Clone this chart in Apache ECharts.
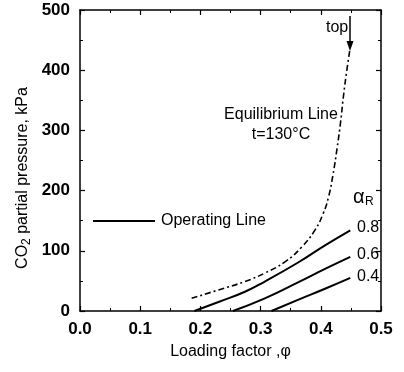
<!DOCTYPE html>
<html><head><meta charset="utf-8">
<script src="https://cdn.jsdelivr.net/npm/echarts@6/dist/echarts.min.js"></script>
<style>html,body{margin:0;padding:0;background:#fff}#c{width:404px;height:372px}</style>
</head><body><div id="c"></div>
<script>
const xTicks = [0.0, 0.1, 0.2, 0.3, 0.4, 0.5];
const yTicks = [0, 100, 200, 300, 400, 500];
const equilibrium = [[0.1855,21],[0.23,35],[0.274,49],[0.307,63],[0.341,82],[0.368,106],[0.39,134],[0.404,162],[0.413,190],[0.42,225],[0.427,270],[0.433,315],[0.438,360],[0.443,398],[0.448,432]];
const op08 = [[0.19,0],[0.23,15],[0.274,32],[0.307,49],[0.363,81],[0.407,109],[0.449,134]];
const op06 = [[0.254,0],[0.307,21],[0.363,48],[0.407,70],[0.449,90]];
const op04 = [[0.318,0],[0.363,19],[0.407,37],[0.449,55]];
const arrowTop = [[0.4485,490],[0.4485,440]];
const F = '"Liberation Sans",Arial,sans-serif';
const chart = echarts.init(document.getElementById('c'));
const axisBase = {
  axisLine:{show:true,onZero:false,lineStyle:{color:'#000',width:1.5}},
  axisTick:{show:true,inside:true,length:5,lineStyle:{color:'#000',width:1.2}},
  minorTick:{show:true,splitNumber:2,length:3,lineStyle:{color:'#000',width:1}},
  splitLine:{show:false}
};
const arrowData = arrowTop.map((p,i)=> i===0 ? {value:p,symbol:'none'} : {value:p,symbol:'triangle',symbolSize:[7,10],symbolRotate:180});
chart.setOption({
  animation:false,
  grid:{left:80,right:23,top:10,bottom:61},
  xAxis:[
    Object.assign({type:'value',min:0,max:0.5,interval:0.1,position:'bottom',
      name:'Loading factor ,φ',nameLocation:'middle',nameGap:33,
      nameTextStyle:{fontFamily:F,fontSize:16,color:'#000'},
      axisLabel:{formatter:v=>v.toFixed(1),fontFamily:F,fontSize:17,color:'#000',fontWeight:'bold',margin:10}},axisBase),
    Object.assign({type:'value',min:0,max:0.5,interval:0.1,position:'top',axisLabel:{show:false}},axisBase)
  ],
  yAxis:[
    Object.assign({type:'value',min:0,max:500,interval:100,position:'left',
      axisLabel:{fontFamily:F,fontSize:17,color:'#000',fontWeight:'bold',margin:10}},axisBase),
    Object.assign({type:'value',min:0,max:500,interval:100,position:'right',axisLabel:{show:false}},axisBase)
  ],
  series:[
    {type:'line',data:equilibrium,smooth:true,showSymbol:false,lineStyle:{color:'#000',width:1.6,type:[6,3,2,3]}},
    {type:'line',data:op08,smooth:true,showSymbol:false,lineStyle:{color:'#000',width:2}},
    {type:'line',data:op06,smooth:true,showSymbol:false,lineStyle:{color:'#000',width:2}},
    {type:'line',data:op04,smooth:true,showSymbol:false,lineStyle:{color:'#000',width:2}},
    {type:'line',data:arrowData,showAllSymbol:true,itemStyle:{color:'#000'},lineStyle:{color:'#000',width:1.5}}
  ],
  graphic:[
    {type:'text',x:23,y:178,rotation:Math.PI/2,style:{
      text:'CO{s|2} partial pressure, kPa',font:'16px '+F,fill:'#000',align:'center',verticalAlign:'middle',
      rich:{s:{fontSize:12,fontFamily:F,padding:[8,0,0,0],fill:'#000'}}}},
    {type:'text',x:326,y:28,style:{text:'top',font:'16px '+F,fill:'#000',verticalAlign:'middle'}},
    {type:'text',x:281,y:115,style:{text:'Equilibrium Line',font:'16px '+F,fill:'#000',align:'center',verticalAlign:'middle'}},
    {type:'text',x:281,y:135,style:{text:'t=130°C',font:'16px '+F,fill:'#000',align:'center',verticalAlign:'middle'}},
    {type:'text',x:353,y:197,style:{text:'α',font:'20px '+F,fill:'#000',verticalAlign:'middle'}},
    {type:'text',x:365,y:202,style:{text:'R',font:'12px '+F,fill:'#000',verticalAlign:'middle'}},
    {type:'text',x:357,y:228,style:{text:'0.8',font:'16px '+F,fill:'#000',verticalAlign:'middle'}},
    {type:'text',x:357,y:255,style:{text:'0.6',font:'16px '+F,fill:'#000',verticalAlign:'middle'}},
    {type:'text',x:357,y:277,style:{text:'0.4',font:'16px '+F,fill:'#000',verticalAlign:'middle'}},
    {type:'line',shape:{x1:93,y1:221,x2:155,y2:221},style:{stroke:'#000',lineWidth:2}},
    {type:'text',x:161,y:221,style:{text:'Operating Line',font:'16px '+F,fill:'#000',verticalAlign:'middle'}}
  ]
});
</script></body></html>
